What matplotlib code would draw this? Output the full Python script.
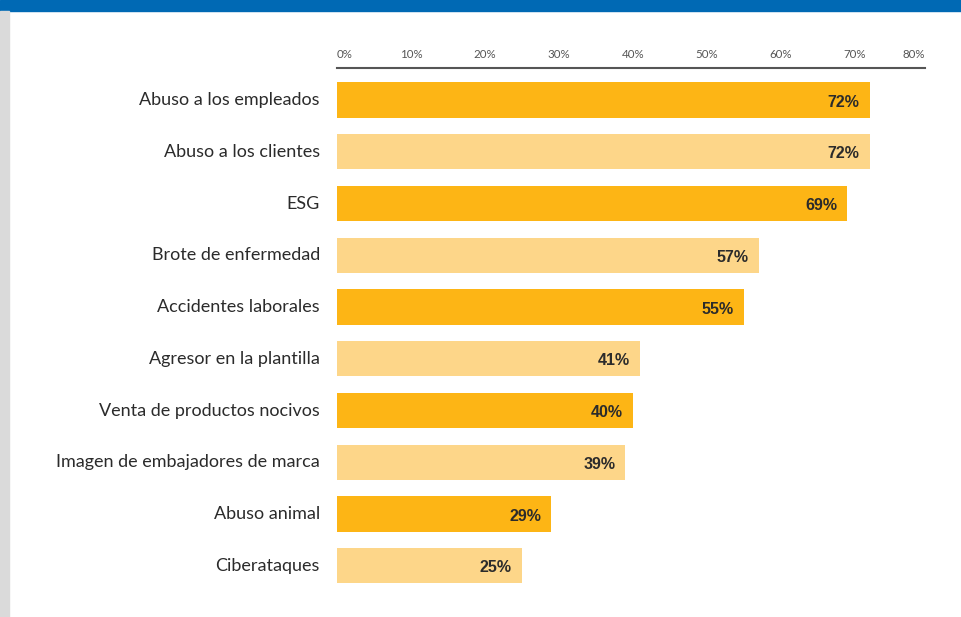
import matplotlib
matplotlib.use("Agg")
import matplotlib.pyplot as plt
from matplotlib.patches import Rectangle
from matplotlib import transforms

categories = ["Abuso a los empleados", "Abuso a los clientes", "ESG",
              "Brote de enfermedad", "Accidentes laborales",
              "Agresor en la plantilla", "Venta de productos nocivos",
              "Imagen de embajadores de marca", "Abuso animal", "Ciberataques"]
values = [72, 72, 69, 57, 55, 41, 40, 39, 29, 25]
tick_values = [0, 10, 20, 30, 40, 50, 60, 70, 80]
tick_labels = ["0%", "10%", "20%", "30%", "40%", "50%", "60%", "70%", "80%"]

dark = "#FDB515"
light = "#FDD689"
colors = [dark if i % 2 == 0 else light for i in range(len(values))]

plt.rcParams['font.family'] = ['Lato', 'DejaVu Sans']

fig = plt.figure(figsize=(9.62, 6.17), dpi=100)
fig.patch.set_facecolor("white")

# decorative frame
fig.add_artist(Rectangle((0, 1 - 11 / 617), 1, 11 / 617, transform=fig.transFigure,
                         color="#0069B4", zorder=0))
fig.add_artist(Rectangle((0, 0), 9 / 962, 1 - 11 / 617, transform=fig.transFigure,
                         color="#DADADA", zorder=0))

ax = fig.add_axes([337 / 962, 0.0276, 588 / 962, 0.8622])
y = list(range(len(categories)))
ax.barh(y, values, height=0.68, color=colors, zorder=2)
ax.set_xlim(0, 79.5)
ax.set_ylim(9.66, -0.62)

for spine in ["right", "bottom", "left"]:
    ax.spines[spine].set_visible(False)
ax.spines["top"].set_color("#555555")
ax.spines["top"].set_linewidth(1.5)

ax.set_xticks([])
ax.set_yticks([])

# top tick labels
for tv, tl in zip(tick_values, tick_labels):
    ha = "center"
    xpos = tv
    if tv == 0:
        ha = "left"
    elif tv == 80:
        ha = "right"
        xpos = 79.5
    ax.text(xpos, -0.62 - 0.15, tl, ha=ha, va="bottom",
            fontsize=8.3, color="#555555", clip_on=False)

# category labels
for yi, cat in zip(y, categories):
    ax.text(-2.3, yi, cat, ha="right", va="center", fontsize=13,
            color="#2b2b2b", clip_on=False)

# value labels
offset = transforms.offset_copy(ax.transData, fig=fig, x=-10, y=-2, units="dots")
for yi, v in zip(y, values):
    ax.text(v, yi, f"{v}%", ha="right", va="center", fontsize=11.5,
            fontweight="bold", color="#2b2b2b", transform=offset, zorder=3,
            family=["Liberation Sans", "DejaVu Sans"])

fig.savefig("out.png", dpi=100, facecolor="white")
